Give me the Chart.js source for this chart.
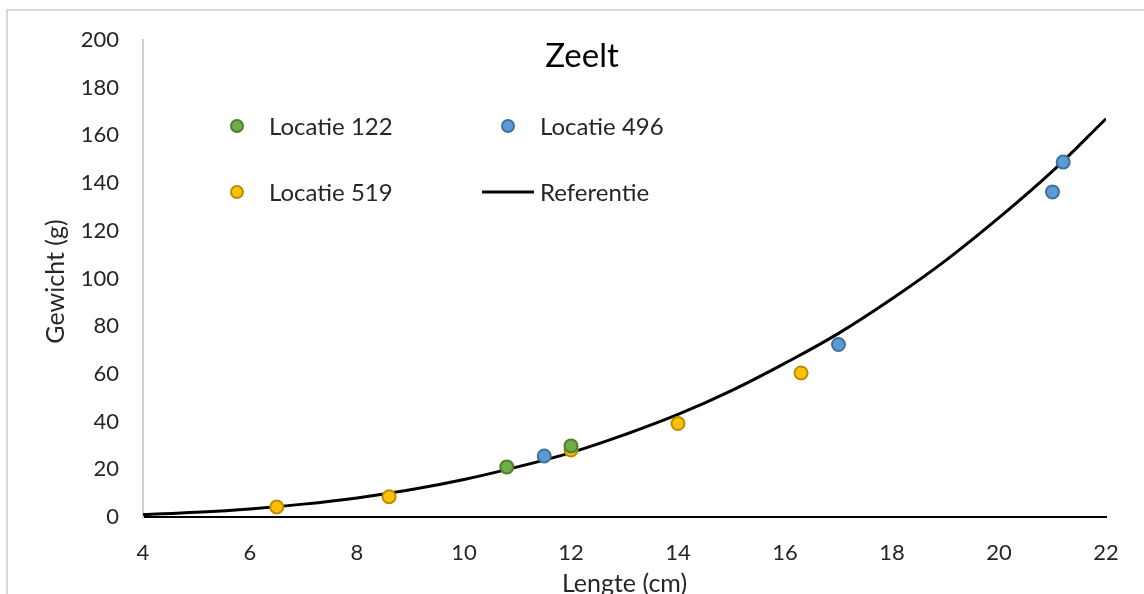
<!DOCTYPE html>
<html><head><meta charset="utf-8">
<script src="https://cdn.jsdelivr.net/npm/chart.js@4.4.1/dist/chart.umd.min.js"></script>
<style>
html,body{margin:0;padding:0;background:#fff;overflow:hidden}
#wrap{position:relative;width:1144px;height:594px}
#frame{position:absolute;left:6px;top:9px;width:1200px;height:700px;border:2px solid #d9d9d9;box-sizing:border-box;pointer-events:none}
canvas{position:absolute;left:0;top:0}
</style></head>
<body><div id="wrap"><div id="frame"></div><canvas id="c" width="1144" height="594"></canvas></div>
<script>
const chartTitle = "Zeelt";
const xTitle = "Lengte (cm)";
const yTitle = "Gewicht (g)";
const xTicks = [4,6,8,10,12,14,16,18,20,22];
const yTicks = [0,20,40,60,80,100,120,140,160,180,200];

const loc122Length = [10.8, 12.0];
const loc122Weight = [21.0, 29.8];
const loc496Length = [11.5, 17.0, 21.0, 21.2];
const loc496Weight = [25.6, 72.3, 136.3, 148.8];
const loc519Length = [6.5, 8.6, 12.0, 14.0, 16.3];
const loc519Weight = [4.2, 8.5, 28.1, 39.2, 60.4];
const refLength = [4,5,6,7,8,9,10,11,12,13,14,15,16,17,18,19,20,21,22];
const refWeight = [1.0,2.0,3.4,5.4,8.0,11.4,15.7,21.0,27.0,34.5,43.0,53.0,64.5,77.0,91.5,107.5,125.5,145.0,167.0];

const pts = (xs, ys) => xs.map((x, i) => ({x: x, y: ys[i]}));
const FONT = "Lato, 'Open Sans', sans-serif";
const TXT = "#262626";

const series = [
  {label:"Locatie 122", data:pts(loc122Length, loc122Weight), bg:"#70ad47", bd:"#507e32"},
  {label:"Locatie 496", data:pts(loc496Length, loc496Weight), bg:"#5b9bd5", bd:"#41719c"},
  {label:"Locatie 519", data:pts(loc519Length, loc519Weight), bg:"#ffc000", bd:"#bc8c00"}
];

const datasets = series.map(s => ({
  label: s.label, data: s.data, showLine: false,
  pointRadius: 6.5, pointBackgroundColor: s.bg, pointBorderColor: s.bd, pointBorderWidth: 2,
  order: 1
}));
datasets.push({
  label: "Referentie", data: pts(refLength, refWeight), showLine: true,
  borderColor: "#000", borderWidth: 3, pointRadius: 0, tension: 0.4, fill: false, order: 10
});

const overlay = {
  id: "overlay",
  afterDraw(chart) {
    const ctx = chart.ctx, a = chart.chartArea;
    ctx.save();
    ctx.fillStyle = "#000";
    ctx.font = "33px " + FONT;
    ctx.textAlign = "center"; ctx.textBaseline = "middle";
    ctx.fillText(chartTitle, 582, 56);
    ctx.fillStyle = TXT;
    ctx.font = "25px " + FONT;
    ctx.fillText(xTitle, (a.left + a.right) / 2, 584);
    ctx.save();
    ctx.translate(56, (a.top + a.bottom) / 2 + 3);
    ctx.rotate(-Math.PI / 2);
    ctx.fillText(yTitle, 0, 0);
    ctx.restore();
    // legend
    const items = [
      {ds:0, mx:237, my:126, tx:269},
      {ds:1, mx:508, my:126, tx:540},
      {ds:2, mx:237, my:192, tx:269},
      {ds:3, mx:508, my:192, tx:540}
    ];
    ctx.font = "24px " + FONT;
    ctx.textAlign = "left";
    items.forEach(it => {
      const d = chart.data.datasets[it.ds];
      if (d.showLine) {
        ctx.strokeStyle = d.borderColor; ctx.lineWidth = d.borderWidth;
        ctx.beginPath(); ctx.moveTo(482, it.my); ctx.lineTo(534, it.my); ctx.stroke();
      } else {
        ctx.beginPath(); ctx.arc(it.mx, it.my, 6, 0, Math.PI * 2);
        ctx.fillStyle = d.pointBackgroundColor; ctx.fill();
        ctx.lineWidth = 2; ctx.strokeStyle = d.pointBorderColor; ctx.stroke();
      }
      ctx.fillStyle = TXT;
      ctx.fillText(d.label, it.tx, it.my + 1);
    });
    ctx.restore();
  }
};

new Chart(document.getElementById("c"), {
  type: "scatter",
  data: { datasets },
  plugins: [overlay],
  options: {
    responsive: false, animation: false, devicePixelRatio: 1,
    layout: { padding: { top: 40, right: 38, left: 0, bottom: 0 } },
    plugins: { legend: { display: false }, tooltip: { enabled: false }, title: { display: false } },
    scales: {
      x: {
        type: "linear", min: 4, max: 22,
        afterBuildTicks: s => { s.ticks = xTicks.map(v => ({value: v})); },
        afterFit: s => { s.height = 77; },
        grid: { display: false, drawTicks: false },
        border: { display: true, color: "#000", width: 2 },
        ticks: { padding: 23, color: TXT, font: { family: FONT, size: 22 }, maxRotation: 0 }
      },
      y: {
        type: "linear", min: 0, max: 200,
        afterBuildTicks: s => { s.ticks = yTicks.map(v => ({value: v})); },
        afterFit: s => { s.width = 143; },
        grid: { display: false, drawTicks: false },
        border: { display: true, color: "#d0d0d0", width: 2 },
        ticks: { padding: 24, color: TXT, font: { family: FONT, size: 22 } }
      }
    }
  }
});
</script></body></html>
